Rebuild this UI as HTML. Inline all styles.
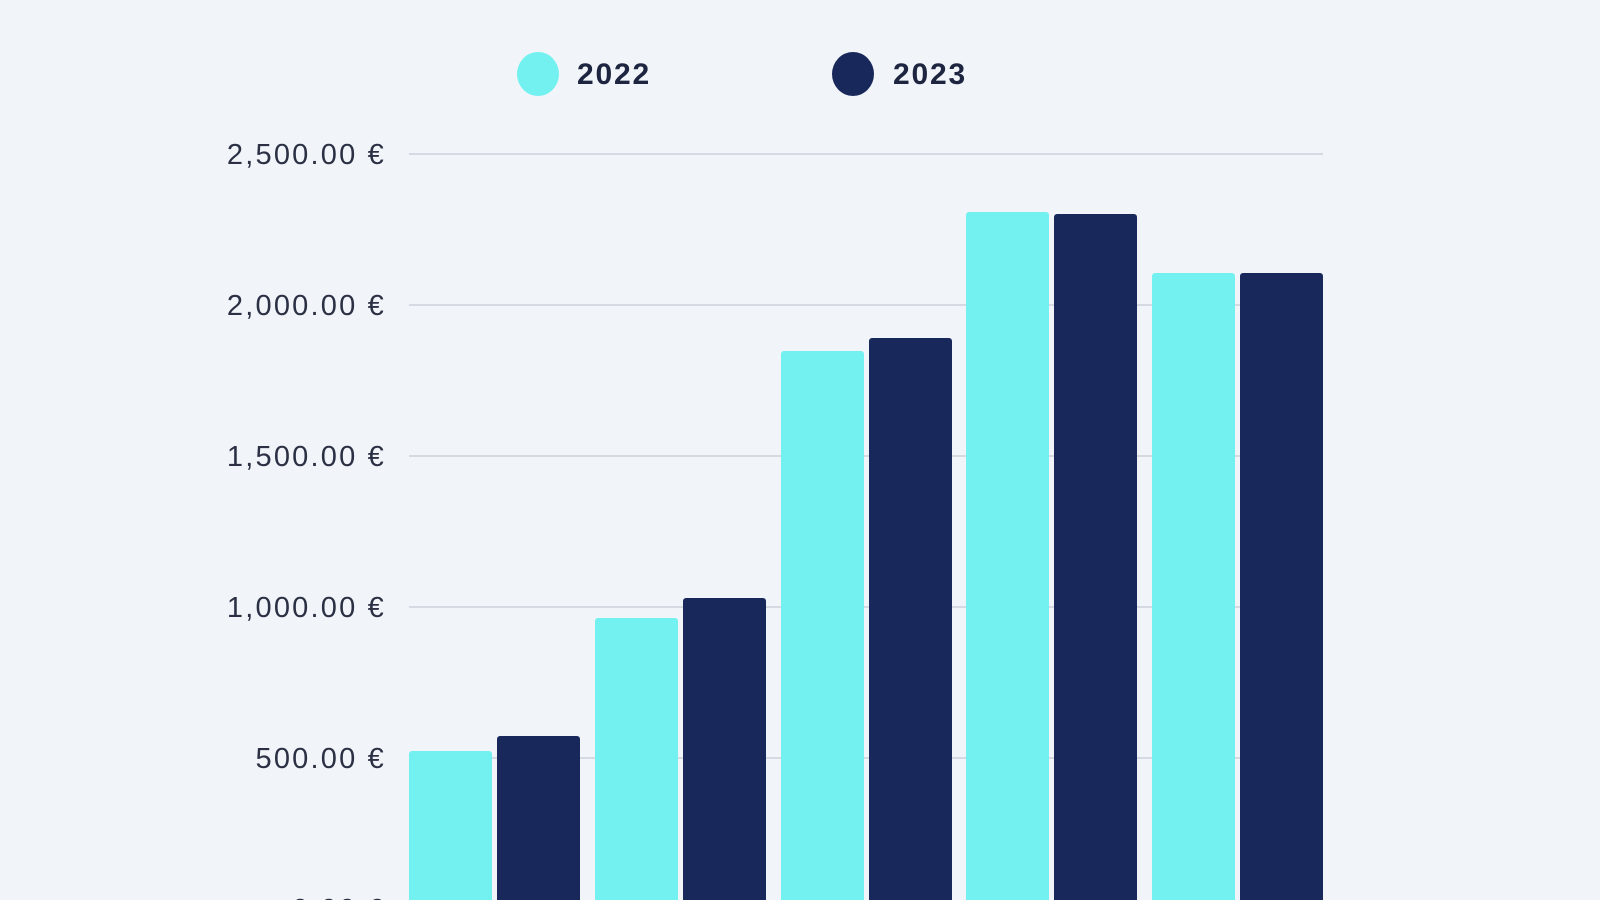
<!DOCTYPE html>
<html><head><meta charset="utf-8"><style>
html,body{margin:0;padding:0;background:#f1f5f9;}
svg{display:block}
</style></head><body>
<svg width="1600" height="900" viewBox="0 0 1600 900" xmlns="http://www.w3.org/2000/svg">
<rect width="1600" height="900" fill="#f1f5f9"/>
<g stroke="#d5dae2" stroke-width="2">
<line x1="409" y1="154" x2="1323" y2="154"/>
<line x1="409" y1="305" x2="1323" y2="305"/>
<line x1="409" y1="456" x2="1323" y2="456"/>
<line x1="409" y1="607" x2="1323" y2="607"/>
<line x1="409" y1="758" x2="1323" y2="758"/>
</g>
<g font-family="Liberation Sans, sans-serif" font-size="29" fill="#2b3044" text-anchor="end" letter-spacing="2.2">
<text x="386" y="164">2,500.00 €</text>
<text x="386" y="315">2,000.00 €</text>
<text x="386" y="466">1,500.00 €</text>
<text x="386" y="617">1,000.00 €</text>
<text x="386" y="768">500.00 €</text>
<text x="386" y="919">0.00 €</text>
</g>
<g fill="#72f1f0">
<rect x="409" y="751" width="83" height="170" rx="3"/>
<rect x="595" y="618" width="83" height="300" rx="3"/>
<rect x="781" y="351" width="83" height="560" rx="3"/>
<rect x="966" y="212" width="83" height="700" rx="3"/>
<rect x="1152" y="273" width="83" height="650" rx="3"/>
</g>
<g fill="#19285a">
<rect x="497" y="736" width="83" height="180" rx="3"/>
<rect x="683" y="598" width="83" height="320" rx="3"/>
<rect x="869" y="338" width="83" height="580" rx="3"/>
<rect x="1054" y="214" width="83" height="700" rx="3"/>
<rect x="1240" y="273" width="83" height="650" rx="3"/>
</g>
<ellipse cx="538" cy="74" rx="21" ry="22" fill="#72f1f0"/>
<ellipse cx="853" cy="74" rx="21" ry="22" fill="#19285a"/>
<g font-family="Liberation Sans, sans-serif" font-size="30" font-weight="bold" fill="#1e2540" letter-spacing="1.8">
<text x="577" y="84">2022</text>
<text x="893" y="84">2023</text>
</g>
</svg>
</body></html>
